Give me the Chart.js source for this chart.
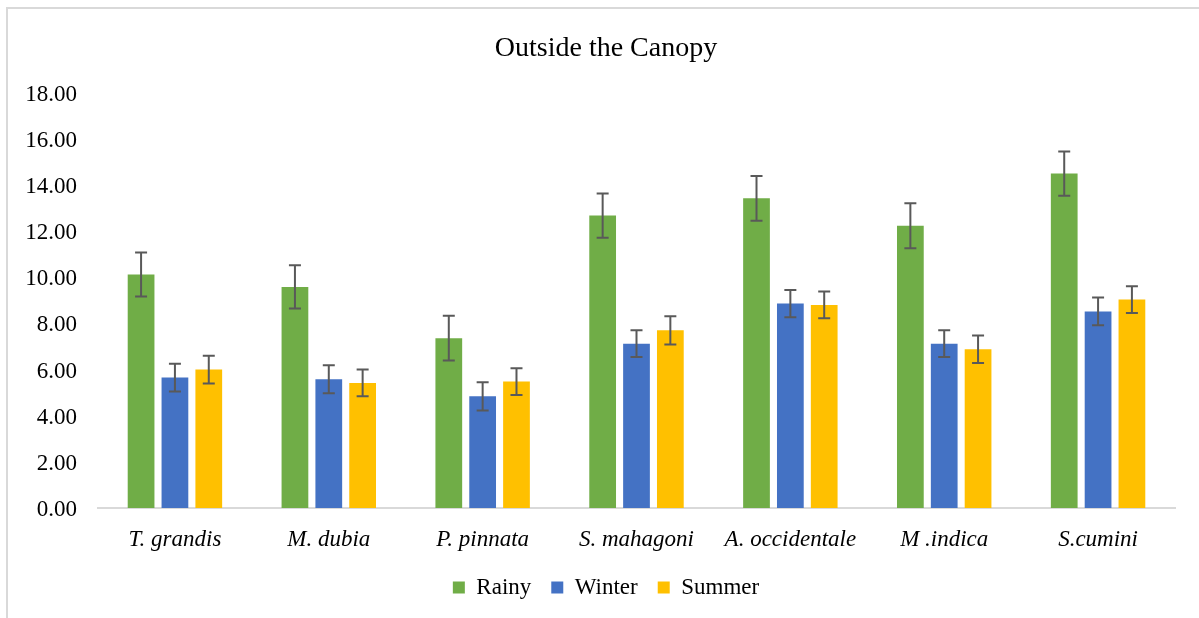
<!DOCTYPE html>
<html>
<head>
<meta charset="utf-8">
<script src="https://cdn.jsdelivr.net/npm/chart.js@4"></script>
<style>
  body { margin: 0; background: #fff; overflow: hidden; }
  #wrap { position: relative; width: 1199px; height: 618px; overflow: hidden; }
  #frame { position: absolute; left: 6px; top: 7px; width: 1300px; height: 700px; border: 2px solid #d9d9d9; box-sizing: border-box; }
  canvas { position: absolute; left: 0; top: 0; }
</style>
</head>
<body>
<div id="wrap">
  <div id="frame"></div>
  <canvas id="chart" width="1199" height="618"></canvas>
</div>
<script>
const categories = ['T. grandis', 'M. dubia', 'P. pinnata', 'S. mahagoni', 'A. occidentale', 'M .indica', 'S.cumini'];
const rainy  = [10.12, 9.58, 7.36, 12.67, 13.42, 12.23, 14.49];
const winter = [5.65, 5.58, 4.84, 7.12, 8.86, 7.12, 8.52];
const summer = [6.00, 5.42, 5.48, 7.70, 8.80, 6.88, 9.03];
const rainyErr  = [0.95, 0.94, 0.97, 0.96, 0.97, 0.97, 0.96];
const winterErr = [0.60, 0.61, 0.61, 0.58, 0.59, 0.58, 0.60];
const summerErr = [0.60, 0.58, 0.58, 0.61, 0.58, 0.60, 0.58];

const serif = "'Times New Roman', 'Liberation Serif', serif";

// draws the error bars with the y scale of the chart
const errorBars = {
  id: 'errorBars',
  afterDatasetsDraw(chart) {
    const ctx = chart.ctx;
    const y = chart.scales.y;
    ctx.save();
    ctx.strokeStyle = '#595959';
    ctx.lineWidth = 2;
    chart.data.datasets.forEach((ds, di) => {
      const meta = chart.getDatasetMeta(di);
      meta.data.forEach((bar, i) => {
        const v = ds.data[i], e = ds.errors[i];
        const top = y.getPixelForValue(v + e);
        const bot = y.getPixelForValue(v - e);
        const x = bar.x;
        ctx.beginPath();
        ctx.moveTo(x, top); ctx.lineTo(x, bot);
        ctx.moveTo(x - 6, top); ctx.lineTo(x + 6, top);
        ctx.moveTo(x - 6, bot); ctx.lineTo(x + 6, bot);
        ctx.stroke();
      });
    });
    ctx.restore();
  }
};

// let the y labels run past the left padding so they are not clipped
const unclipY = {
  id: 'unclipY',
  afterLayout(chart) {
    chart.scales.y.left = 0;
  }
};

new Chart(document.getElementById('chart'), {
  type: 'bar',
  data: {
    labels: categories,
    datasets: [
      { label: 'Rainy', data: rainy, errors: rainyErr, backgroundColor: '#70AD47' },
      { label: 'Winter', data: winter, errors: winterErr, backgroundColor: '#4472C4' },
      { label: 'Summer', data: summer, errors: summerErr, backgroundColor: '#FFC000' }
    ]
  },
  options: {
    responsive: false,
    animation: false,
    datasets: {
      bar: { barPercentage: 0.79, categoryPercentage: 0.66 }
    },
    layout: { padding: { left: 37, right: 24, top: 0, bottom: 9 } },
    plugins: {
      title: {
        display: true,
        text: 'Outside the Canopy',
        color: '#000',
        font: { family: serif, size: 28, weight: 'normal' },
        padding: { top: 32, bottom: 27 }
      },
      legend: {
        position: 'bottom',
        labels: {
          color: '#000',
          boxWidth: 12,
          boxHeight: 12,
          padding: 20,
          font: { family: serif, size: 23 }
        }
      },
      tooltip: { enabled: false }
    },
    scales: {
      x: {
        grid: { display: false, drawTicks: false },
        border: { display: true, color: '#d9d9d9', width: 2 },
        ticks: {
          color: '#000',
          padding: 18,
          font: { family: serif, size: 23, style: 'italic' }
        },
        afterFit: scale => { scale.height = 48; }
      },
      y: {
        min: 0,
        max: 18,
        grid: { display: false, drawTicks: false },
        border: { display: false },
        ticks: {
          stepSize: 2,
          color: '#000',
          padding: 21,
          labelOffset: 2,
          font: { family: serif, size: 23 },
          callback: v => v.toFixed(2)
        },
        afterFit: scale => { scale.width = 61; }
      }
    }
  },
  plugins: [errorBars, unclipY]
});
</script>
</body>
</html>
